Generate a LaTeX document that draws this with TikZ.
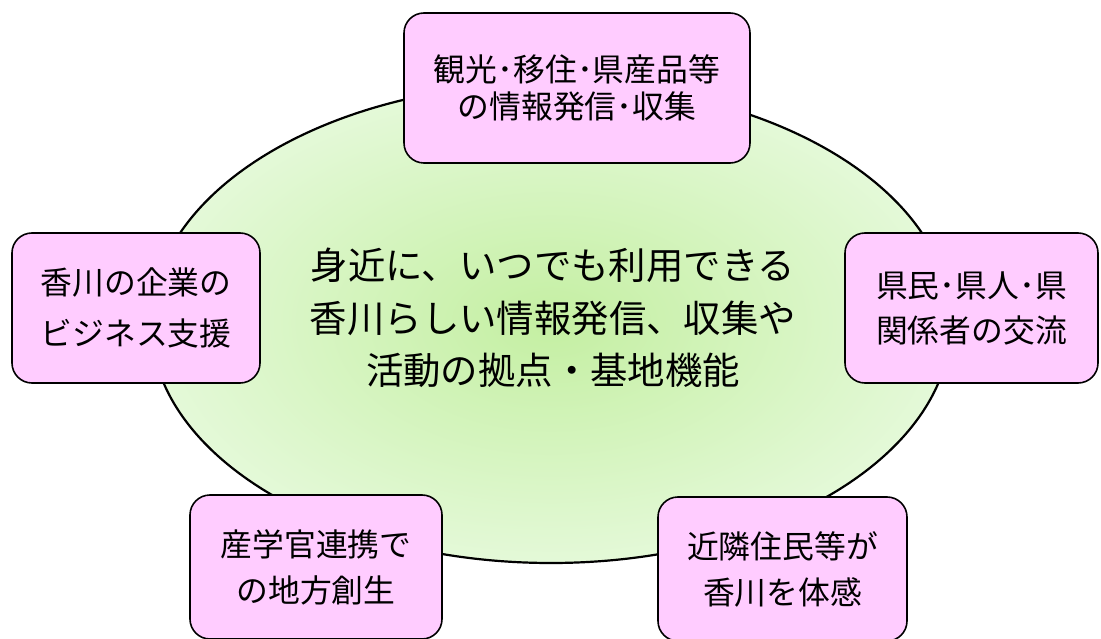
\documentclass[tikz,border=0pt]{standalone}
\usepackage{fontspec}
\setmainfont{Noto Sans CJK JP}
\usetikzlibrary{shapes.geometric}
\definecolor{boxpink}{RGB}{255,204,255}
\definecolor{gin}{RGB}{196,239,162}
\definecolor{gout}{RGB}{228,249,216}
\tikzset{
  pinkbox/.style={draw=black, line width=1.6pt, fill=boxpink, rounded corners=20pt,
    align=center, inner sep=0pt, minimum height=150pt},
  hubshape/.style={ellipse, draw=black, line width=2.2pt, inner color=gin, outer color=gout,
    minimum width=800pt, minimum height=480pt, inner sep=0pt},
}
\begin{document}
\begin{tikzpicture}[x=1pt,y=-1pt]
\useasboundingbox (0,0) rectangle (1101,639);
\node[hubshape] (hub) at (551,323) {};
\node[align=center, font=\fontsize{37.4}{52.5}\selectfont] (hubtext) at (553,318)
  {身近に、いつでも利用できる\\香川らしい情報発信、収集や\\活動の拠点・基地機能};
\node[pinkbox, minimum width=346pt, font=\fontsize{31.8}{37}\selectfont] (top) at (577,88)
  {観光･移住･県産品等\\の情報発信･収集};
\node[pinkbox, minimum width=248pt, font=\fontsize{31.8}{51}\selectfont] (left) at (136,308)
  {香川の企業の\\ビジネス支援};
\node[pinkbox, minimum width=253pt, font=\fontsize{31.8}{45}\selectfont] (right) at (971.5,308)
  {県民･県人･県\\関係者の交流};
\node[pinkbox, minimum width=252pt, minimum height=144pt, font=\fontsize{31.8}{46}\selectfont] (botleft) at (316,567)
  {産学官連携で\\の地方創生};
\node[pinkbox, minimum width=249pt, minimum height=144pt, font=\fontsize{31.8}{46}\selectfont] (botright) at (782.5,569)
  {近隣住民等が\\香川を体感};
\end{tikzpicture}
\end{document}
